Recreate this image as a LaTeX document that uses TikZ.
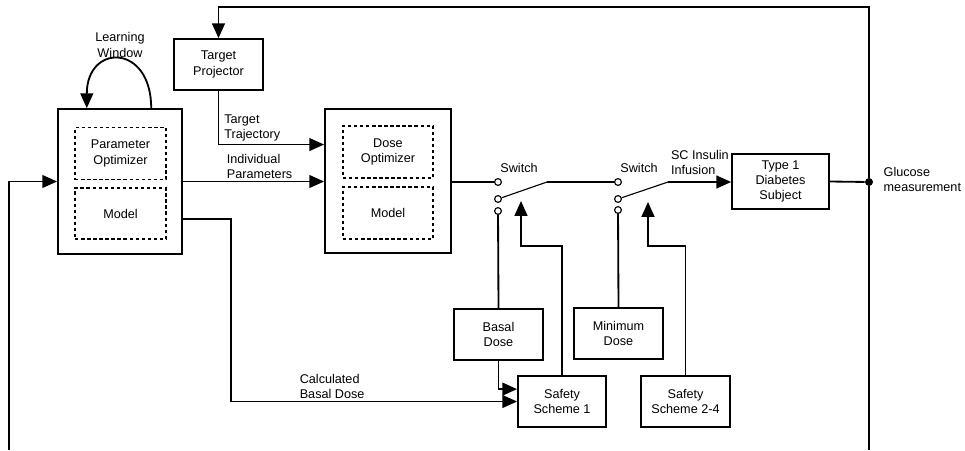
\documentclass[tikz,border=0pt]{standalone}
\usepackage{fontspec}
\setmainfont{Liberation Sans}
\usetikzlibrary{arrows.meta, positioning, calc}

\begin{document}
\begin{tikzpicture}[
  x=0.025cm, y=-0.025cm,
  font=\fontsize{9}{10.8}\selectfont,
  outer box/.style={draw, line width=1.3pt, minimum width=3.1cm, minimum height=3.62cm},
  inner box/.style={draw, line width=1pt, dash pattern=on 2.4pt off 1.9pt, align=center, minimum width=2.27cm, minimum height=1.3cm},
  plain box/.style={draw, line width=1.3pt, align=center, minimum width=2.22cm, minimum height=1.27cm, inner sep=1pt},
  sw term/.style={circle, draw, line width=0.8pt, fill=white, minimum size=0.17cm, inner sep=0pt},
  line label/.style={align=left, inner sep=1.5pt},
  flow/.style={line width=1.3pt},
  arr/.style={flow, -{Triangle[length=0.37cm, width=0.32cm]}}
]
  \useasboundingbox (0,0) rectangle (965,450);

  % Learning part
  \node[outer box] (opt box) at (120,181.5) {};
  \node[inner box] (param opt) at (120.5,153.5) {Parameter\\Optimizer};
  \node[inner box, minimum height=1.27cm] (opt model) at (120.5,213.5) {Model};
  \node[align=center, inner sep=0pt] (learn lbl) at (120,45) {Learning\\Window};
  \node[plain box] (target proj) at (218.5,64.5) {Target\\Projector};

  % Dose part
  \node[outer box, minimum width=3.15cm, minimum height=3.6cm] (dose box) at (388,181) {};
  \node[inner box, minimum width=2.25cm] (dose opt) at (388,152) {Dose\\Optimizer};
  \node[inner box, minimum width=2.25cm] (dose model) at (388,213) {Model};

  % Switches
  \node[sw term] (sw1 top) at (498,182) {};
  \node[sw term] (sw1 mid) at (498,199) {};
  \node[sw term] (sw1 bot) at (498,211) {};
  \coordinate (sw1 end) at (547,182);
  \coordinate (sw1 ctl) at (521,201);
  \node[line label, anchor=south west, yshift=0.08cm] (sw1 lbl) at (sw1 top.north) {Switch};

  \node[sw term] (sw2 top) at (618,182) {};
  \node[sw term] (sw2 mid) at (618,199) {};
  \node[sw term] (sw2 bot) at (618,210) {};
  \coordinate (sw2 end) at (668,182);
  \coordinate (sw2 ctl) at (648,202);
  \node[line label, anchor=south west, yshift=0.08cm] (sw2 lbl) at (sw2 top.north) {Switch};

  % Safety boxes
  \node[plain box] (basal) at (498.5,334.5) {Basal\\Dose};
  \node[plain box, minimum width=2.2cm] (safety1) at (562,401.5) {Safety\\Scheme 1};
  \node[plain box] (min dose) at (618.5,333.5) {Minimum\\Dose};
  \node[plain box] (safety2) at (685.5,401.5) {Safety\\Scheme 2-4};

  % Subject and measurement
  \node[plain box, minimum width=2.42cm, minimum height=1.37cm] (subject) at (780.5,181.5) {Type 1\\Diabetes\\Subject};
  \node[circle, fill, minimum size=0.2cm, inner sep=0pt] (meas dot) at (869,182) {};
  \node[line label, anchor=west, yshift=0.07cm] (meas lbl) at ([xshift=0.2cm]meas dot.east) {Glucose\\measurement};
  \coordinate (top corner) at (869,7);
  \coordinate (meas end) at (869,450);
  \coordinate (fb end) at (9,450);

  % Connectors
  \draw[arr] ([xshift=0.78cm]opt box.north) .. controls +(0,-65) and +(0,-65) .. ([xshift=-0.83cm]opt box.north);
  \draw[arr] (meas dot) -- (top corner) -| (target proj.north);
  \draw[flow] (meas dot) -- (meas end);
  \draw[flow] (subject.east) -- (meas dot);
  \draw[arr] (fb end) |- (opt box.west);

  \draw[arr] (target proj.south) |- ($(dose box.north west)!0.25!(dose box.south west)$)
    node[line label, pos=0.5, anchor=south west, xshift=2pt] (traj lbl) {Target\\Trajectory};
  \draw[arr] (opt box.east) -- (dose box.west |- opt box.east)
    node[line label, pos=0.29, anchor=south west] (par lbl) {Individual\\Parameters};
  \draw[arr] ([yshift=-0.94cm]opt box.east) -- ++(48,0) |- (safety1.west)
    node[line label, pos=0.615, anchor=south west] (calc lbl) {Calculated\\Basal Dose};

  \draw[flow] (dose box.east |- sw1 top) -- (sw1 top);
  \draw[line width=0.8pt] (sw1 mid) -- (sw1 end);
  \draw[flow] (sw1 end) -- (sw2 top);
  \draw[line width=0.8pt] (sw2 mid) -- (sw2 end);
  \draw[arr] (sw2 end) -- (subject.west |- sw2 end)
    node[line label, pos=0, anchor=south west, yshift=0.1cm] (sc lbl) {SC Insulin\\Infusion};

  \draw[flow] (sw1 bot) -- (basal.north);
  \draw[arr] (basal.south) |- ([yshift=0.31cm]safety1.west);
  \draw[arr] (safety1.north) -- ++(0,-129) -| (sw1 ctl);
  \draw[flow] (min dose.north) -- (sw2 bot);
  \draw[arr] (safety2.north) -- ++(0,-129) -| (sw2 ctl);
\end{tikzpicture}
\end{document}
